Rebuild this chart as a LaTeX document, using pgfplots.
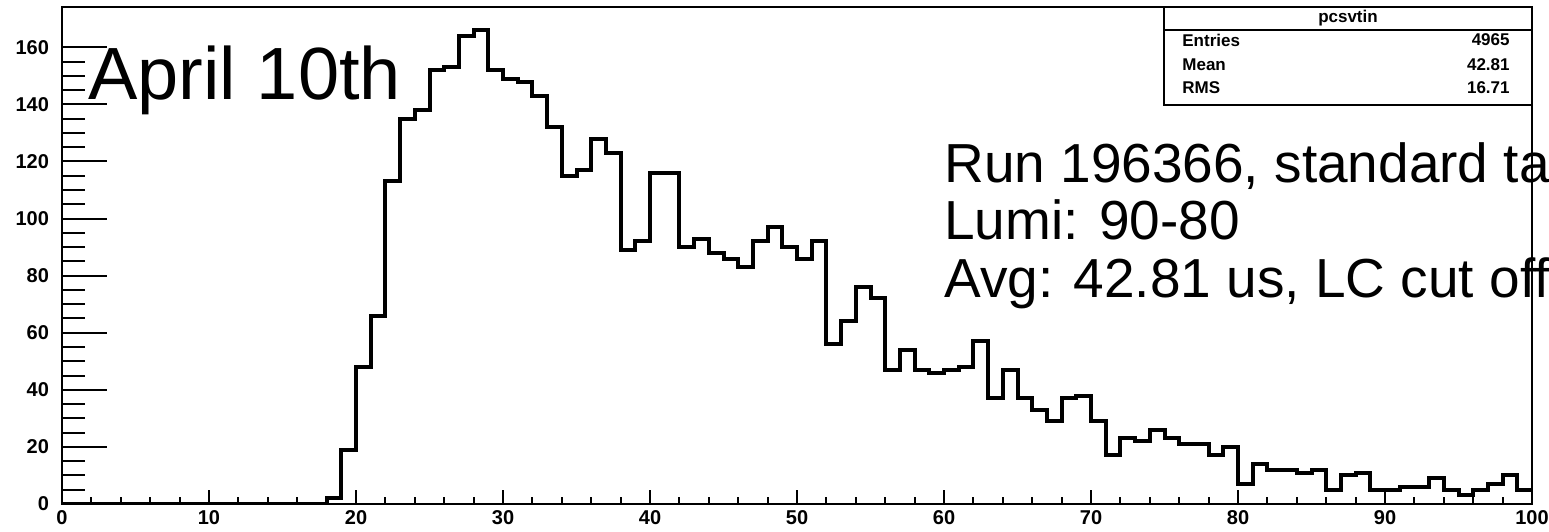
\documentclass[border=0pt]{standalone}
\usepackage{fontspec}
\setmainfont{Liberation Sans}
\usepackage{pgfplots}
\usepackage{pgfplotstable}
\pgfplotsset{compat=1.18}

\pgfplotstableread{
x y
0 0
1 0
2 0
3 0
4 0
5 0
6 0
7 0
8 0
9 0
10 0
11 0
12 0
13 0
14 0
15 0
16 0
17 0
18 2
19 19
20 48
21 66
22 113
23 135
24 138
25 152
26 153
27 164
28 166
29 152
30 149
31 148
32 143
33 132
34 115
35 117
36 128
37 123
38 89
39 92
40 116
41 116
42 90
43 93
44 88
45 86
46 83
47 92
48 97
49 90
50 86
51 92
52 56
53 64
54 76
55 72
56 47
57 54
58 47
59 46
60 47
61 48
62 57
63 37
64 47
65 37
66 33
67 29
68 37
69 38
70 29
71 17
72 23
73 22
74 26
75 23
76 21
77 21
78 17
79 20
80 7
81 14
82 12
83 12
84 11
85 12
86 5
87 10
88 11
89 5
90 5
91 6
92 6
93 9
94 5
95 3
96 5
97 7
98 10
99 5
100 5
}\histdata

\begin{document}
\begin{tikzpicture}[x=1pt,y=1pt]
\path[use as bounding box, clip] (0,0) rectangle (774.5,265.5);
\fill[white] (0,0) rectangle (774.5,265.5);
% main axis: histogram, frame, x ticks
\begin{axis}[
  at={(31pt,13.5pt)}, anchor=south west,
  scale only axis, width=735pt, height=248.35pt,
  xmin=0, xmax=100, ymin=0, ymax=174,
  xtick={0,10,...,100}, minor x tick num=4,
  ytick=\empty,
  xtick pos=left,
  tick align=inside,
  major tick length=7pt, minor tick length=3.5pt,
  tick style={black, line width=1pt},
  axis line style={black, line width=0.9pt},
  /pgf/number format/assume math mode=true,
  xticklabel style={font=\fontsize{10}{12}\selectfont\bfseries, yshift=0.5pt},
]
\addplot[const plot, black, line width=2pt, line join=miter] table[x=x,y=y]{\histdata};
\end{axis}
% overlay axis: y ticks with ROOT-like long ticks
\begin{axis}[
  at={(31pt,13.5pt)}, anchor=south west,
  scale only axis, width=735pt, height=248.35pt,
  xmin=0, xmax=100, ymin=0, ymax=174,
  xtick=\empty,
  ytick={0,20,...,160}, minor y tick num=3,
  ytick pos=left,
  tick align=inside,
  major tick length=22.5pt, minor tick length=11.3pt,
  tick style={black, line width=1pt},
  axis line style={draw=none},
  /pgf/number format/assume math mode=true,
  yticklabel style={font=\fontsize{10}{12}\selectfont\bfseries, xshift=-3pt},
]
\end{axis}
% annotations
\node[anchor=base west, inner sep=0, font=\fontsize{37}{40}\selectfont] at (44,215.5) {April 10th};
\node[anchor=base west, inner sep=0, font=\fontsize{27.5}{30}\selectfont] at (472,174) {Run 196366, standard ta};
\node[anchor=base west, inner sep=0, font=\fontsize{27.5}{30}\selectfont] at (472,145.5) {Lumi: 90-80};
\node[anchor=base west, inner sep=0, font=\fontsize{27.5}{30}\selectfont] at (472,117) {Avg: 42.81 us, LC cut off};
% stats box
\filldraw[fill=white, draw=black, line width=0.75pt] (582,213) rectangle (766,261.85);
\draw[black, line width=0.75pt] (582,250.5) -- (766,250.5);
\node[font=\fontsize{8.5}{10}\selectfont\bfseries, inner sep=0] at (674,256.2) {pcsvtin};
\node[anchor=west, font=\fontsize{8.5}{10}\selectfont\bfseries, inner sep=0] at (591,245.5) {Entries};
\node[anchor=east, font=\fontsize{8.5}{10}\selectfont\bfseries, inner sep=0] at (755,245.5) {4965};
\node[anchor=west, font=\fontsize{8.5}{10}\selectfont\bfseries, inner sep=0] at (591,233) {Mean};
\node[anchor=east, font=\fontsize{8.5}{10}\selectfont\bfseries, inner sep=0] at (755,233) {42.81};
\node[anchor=west, font=\fontsize{8.5}{10}\selectfont\bfseries, inner sep=0] at (591,221.5) {RMS};
\node[anchor=east, font=\fontsize{8.5}{10}\selectfont\bfseries, inner sep=0] at (755,221.5) {16.71};
\end{tikzpicture}
\end{document}
